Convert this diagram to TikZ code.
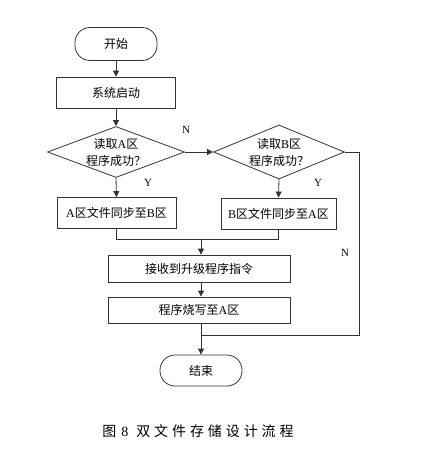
\documentclass[tikz,border=0pt]{standalone}
\usepackage{fontspec}
\setmainfont{Liberation Serif}
\newfontfamily\cjk{Noto Sans CJK SC}
\newfontfamily\cjkwide{Noto Sans CJK SC}[LetterSpace=28]
\usepackage{tikz}
\usetikzlibrary{arrows.meta,positioning,shapes.geometric,calc}
\definecolor{linegray}{HTML}{333333}
\newcommand\zh[1]{{\cjk #1}}

\begin{document}
\begin{tikzpicture}[x=1pt,y=-1pt,font=\fontsize{12}{17}\selectfont,
  line width=0.8pt,
  terminal/.style={draw=linegray,rectangle,rounded corners=15pt,minimum width=82pt,minimum height=33pt,inner sep=0pt},
  process/.style={draw=linegray,rectangle,minimum height=31pt,inner sep=0pt},
  decision/.style={draw=linegray,diamond,inner sep=0pt},
  flow/.style={draw=linegray,-{Triangle[length=6pt,width=6pt]}},
  link/.style={draw=linegray},
  yn/.style={font=\fontsize{11}{12}\selectfont}]
\useasboundingbox (0,0) rectangle (425,449);
% nodes
\node[terminal] (start) at (116,44) {\zh{开始}};
\node[process,minimum width=119pt] (boot) at (116,92.5) {\zh{系统启动}};
\node[decision,minimum width=137pt,minimum height=51pt,
  label={[align=center]center:\zh{读取}A\zh{区}\\\zh{程序成功？}}] (readA) at (116,152) {};
\node[decision,minimum width=131pt,minimum height=54pt,
  label={[align=center]center:\zh{读取}B\zh{区}\\\zh{程序成功？}}] (readB) at (279,152) {};
\node[process,minimum width=119pt] (syncA) at (116.5,213) {A\zh{区文件同步至}B\zh{区}};
\node[process,minimum width=115pt] (syncB) at (278.5,213.5) {B\zh{区文件同步至}A\zh{区}};
\node[process,minimum width=182pt,minimum height=27pt] (recv) at (199,268.5) {\zh{接收到升级程序指令}};
\node[process,minimum width=182pt,minimum height=26pt] (burn) at (199,310) {\zh{程序烧写至}A\zh{区}};
\node[terminal,minimum height=31pt] (stop) at (201,370.5) {\zh{结束}};
\coordinate (merge) at (201,239);
\coordinate (join) at (201,335);
\coordinate (corner) at (359,335);
% connectors
\draw[flow] (start) -- (boot);
\draw[flow] (boot) -- (readA);
\draw[flow] (readA.east) -- (readB.west);
\draw[flow] (readA.south) -- (syncA.north);
\draw[flow] (readB.south) -- (syncB.north);
\draw[link] (syncA.south) |- (merge);
\draw[link] (syncB.south) |- (merge);
\draw[flow] (merge) -- (merge |- recv.north);
\draw[flow] (recv.south -| merge) -- (burn.north -| merge);
\draw[link] (burn.south -| join) -- (join);
\draw[link] (readB.east) -| (corner) -- (join);
\draw[flow] (join) -- (stop);
% labels
\node[yn] (nA) at (186,130) {N};
\node[yn] (yA) at (148,183) {Y};
\node[yn] (yB) at (318,183) {Y};
\node[yn] (nB) at (345,253) {N};
\node[font=\fontsize{14}{16}\selectfont] (caption) at (198,431)
  {{\cjkwide 图}\hspace{5pt}8\hspace{8pt}{\cjkwide 双文件存储设计流程}};
\end{tikzpicture}
\end{document}
